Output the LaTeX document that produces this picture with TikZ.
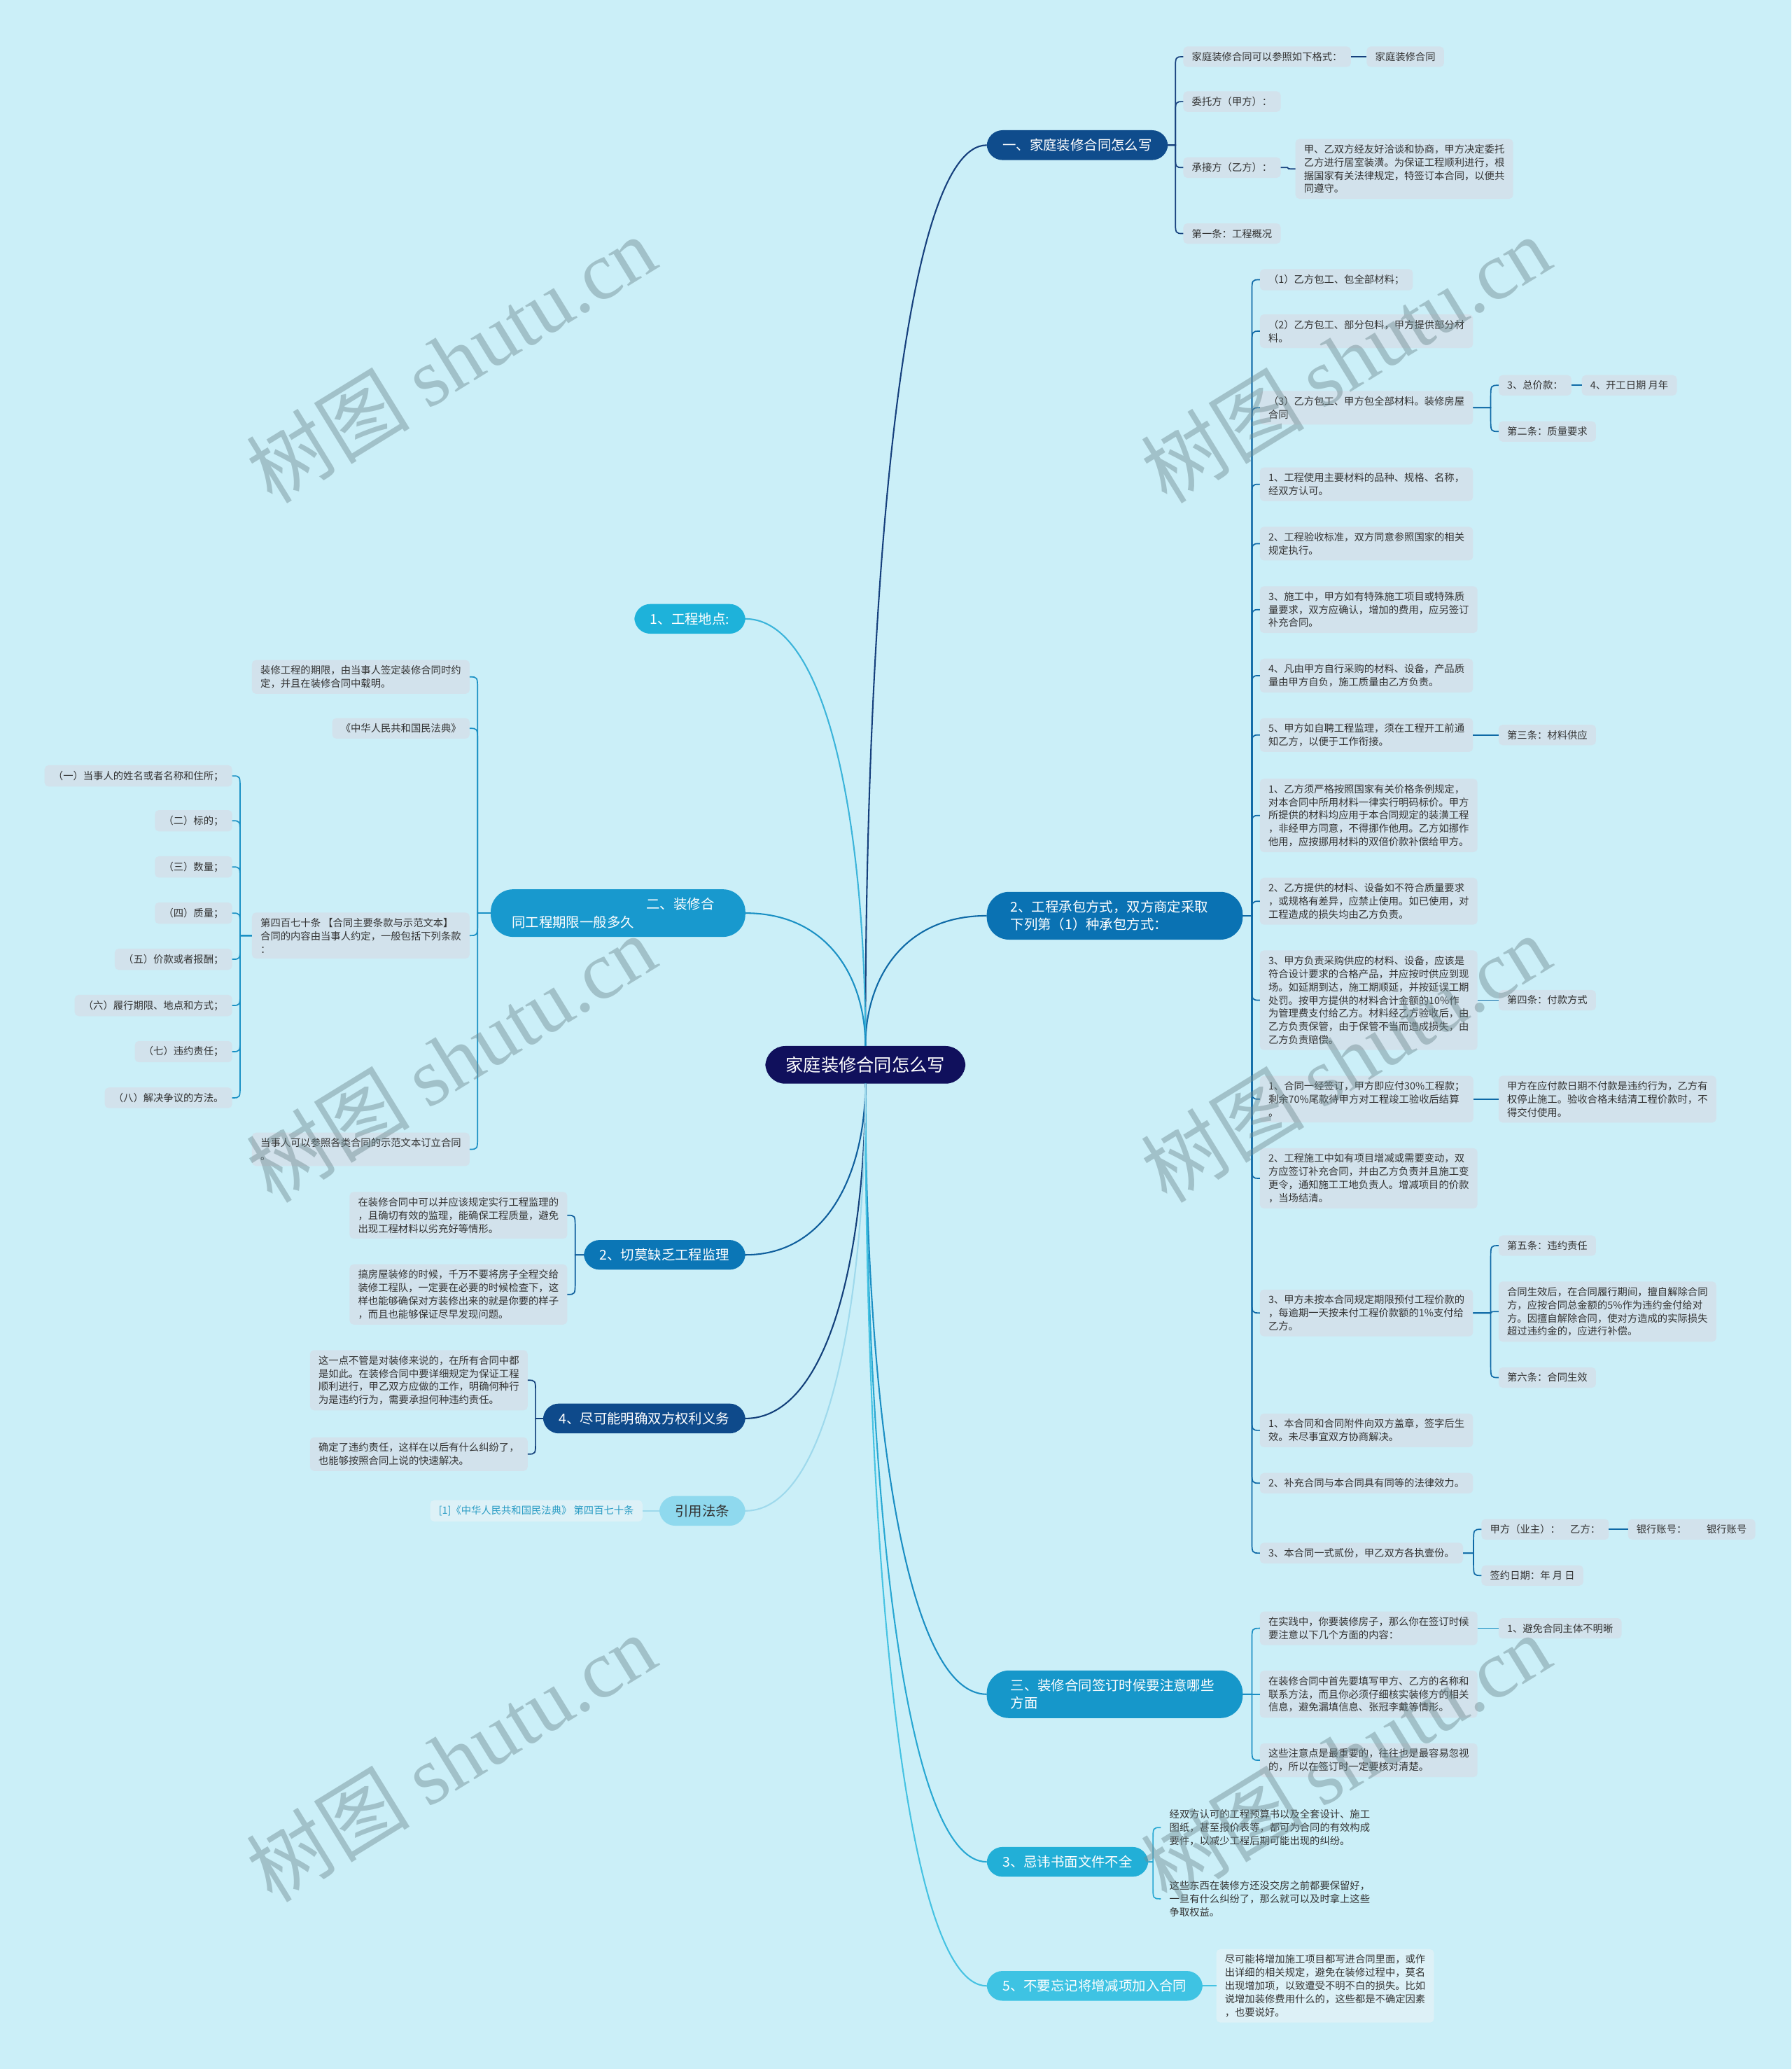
\documentclass[tikz,border=0pt]{standalone}
\usepackage{fontspec}
\setmainfont{Noto Sans CJK SC}
\newfontfamily\wmserif{Liberation Serif}
\usetikzlibrary{calc}
\definecolor{bgc}{HTML}{CBEFF8}
\definecolor{leafc}{HTML}{D2E2EC}
\definecolor{txtc}{HTML}{333333}
\definecolor{rootf}{HTML}{10105C}
\definecolor{c1f}{HTML}{0F4C8C}
\definecolor{c1l}{HTML}{153F7C}
\definecolor{c2f}{HTML}{0A72B3}
\definecolor{c2l}{HTML}{0E69A6}
\definecolor{c3f}{HTML}{1697CA}
\definecolor{c3l}{HTML}{1A8EC3}
\definecolor{c4f}{HTML}{22AFD7}
\definecolor{c4l}{HTML}{27A7D2}
\definecolor{c5f}{HTML}{3EC3E3}
\definecolor{c5l}{HTML}{45C2E2}
\definecolor{l1f}{HTML}{1EB2DA}
\definecolor{l1l}{HTML}{3BB4DA}
\definecolor{l2f}{HTML}{1899CE}
\definecolor{l2l}{HTML}{1A90C4}
\definecolor{l3f}{HTML}{0B76B6}
\definecolor{l3l}{HTML}{0F5E9C}
\definecolor{l4f}{HTML}{0E4A8B}
\definecolor{l4l}{HTML}{123F7A}
\definecolor{l5f}{HTML}{8FD9EE}
\definecolor{l5l}{HTML}{9ED9EC}
\definecolor{reft}{HTML}{2A9CC4}
\definecolor{refb}{HTML}{DDF1F7}
\definecolor{wmc}{HTML}{6F8A90}
\begin{document}
\begin{tikzpicture}[x=1pt,y=-1pt,
  every node/.style={outer sep=0pt},
  leaf/.style={fill=leafc, rounded corners=3pt, inner xsep=6.5pt, inner ysep=4.2pt, align=left, text=txtc, font=\fontsize{7.6}{10}\selectfont},
  bare/.style={leaf, fill=none},
  mainn/.style={rounded corners=12pt, inner xsep=12pt, inner ysep=6.5pt, text=white, align=left, font=\fontsize{10.3}{13.5}\selectfont},
  wm/.style={text=wmc, text opacity=0.45, font=\fontsize{62}{70}\selectfont, rotate=31.6},
  brace/.style={to path={let \p1=(\tikztostart),\p2=(\tikztotarget),\n1={ifthenelse(\y2>\y1,1,-1)},\n2={min(10,abs(\y2-(\y1)))} in -- ({\x2-(#1)},\y1) -- ({\x2-(#1)},{\y2-(\n1)*\n2*1pt}) .. controls ({\x2-(#1)},\y2) .. (\p2)}},
  rootc/.style={to path={let \p1=(\tikztostart),\p2=(\tikztotarget) in .. controls (\x1,{0.5*((\y1)+(\y2))}) and ({\x1+0.3*(\x2-(\x1))},\y2) .. (\p2)}},
  l0/.style={line width=1.1pt},
  lb/.style={line width=0.9pt}
]
\fill[bgc] (0,0) rectangle (1358,1568);
\useasboundingbox (0,0) rectangle (1358,1568);

% ---------- root and main nodes
\node[fill=rootf, rounded corners=15pt, inner xsep=15.5pt, inner ysep=8pt, text=white, font=\fontsize{13.4}{16}\selectfont] (root) at (656,807) {家庭装修合同怎么写};

\node[mainn, fill=c1f, anchor=west] (n1) at (748,110) {一、家庭装修合同怎么写};
\node[mainn, fill=c2f, anchor=west, text width=158pt, inner xsep=18pt, rounded corners=17pt] (n2) at (748,694) {2、工程承包方式，双方商定采取\\下列第（1）种承包方式：};
\node[mainn, fill=c3f, anchor=west, text width=158pt, inner xsep=18pt, rounded corners=17pt] (n3) at (748,1284) {三、装修合同签订时候要注意哪些\\方面};
\node[mainn, fill=c4f, anchor=west] (n4) at (748,1411) {3、忌讳书面文件不全};
\node[mainn, fill=c5f, anchor=west] (n5) at (748,1505) {5、不要忘记将增减项加入合同};

\node[mainn, fill=l1f, anchor=east] (l1) at (565,469) {1、工程地点:};
\node[mainn, fill=l2f, anchor=east, text width=161pt, inner xsep=16pt, rounded corners=17pt] (l2) at (565,692) {\hspace*{102pt}二、装修合\\同工程期限一般多久};
\node[mainn, fill=l3f, anchor=east] (l3) at (565,951) {2、切莫缺乏工程监理};
\node[mainn, fill=l4f, anchor=east] (l4) at (565,1075) {4、尽可能明确双方权利义务};
\node[mainn, fill=l5f, anchor=east, text=txtc] (l5) at (565,1145) {引用法条};

% ---------- branch 一
\node[leaf, anchor=west] (n1a) at (897,43) {家庭装修合同可以参照如下格式：};
\node[leaf, anchor=west] (n1a1) at (1036,43) {家庭装修合同};
\node[leaf, anchor=west] (n1b) at (897,77) {委托方（甲方）：};
\node[leaf, anchor=west] (n1c) at (897,127) {承接方（乙方）：};
\node[leaf, anchor=west] (n1c1) at (982,128) {甲、乙双方经友好洽谈和协商，甲方决定委托\\乙方进行居室装潢。为保证工程顺利进行，根\\据国家有关法律规定，特签订本合同，以便共\\同遵守。};
\node[leaf, anchor=west] (n1d) at (897,177) {第一条：工程概况};

% ---------- branch 2 工程承包方式
\node[leaf, anchor=west] (c1) at (955,212) {（1）乙方包工、包全部材料；};
\node[leaf, anchor=west] (c2) at (955,251) {（2）乙方包工、部分包料，甲方提供部分材\\料。};
\node[leaf, anchor=west] (c3) at (955,309) {（3）乙方包工、甲方包全部材料。装修房屋\\合同};
\node[leaf, anchor=west] (c3a) at (1136,292) {3、总价款：};
\node[leaf, anchor=west] (c3a1) at (1199,292) {4、开工日期 月年};
\node[leaf, anchor=west] (c3b) at (1136,327) {第二条：质量要求};
\node[leaf, anchor=west] (c4) at (955,367) {1、工程使用主要材料的品种、规格、名称，\\经双方认可。};
\node[leaf, anchor=west] (c5) at (955,412) {2、工程验收标准，双方同意参照国家的相关\\规定执行。};
\node[leaf, anchor=west] (c6) at (955,462) {3、施工中，甲方如有特殊施工项目或特殊质\\量要求，双方应确认，增加的费用，应另签订\\补充合同。};
\node[leaf, anchor=west] (c7) at (955,512) {4、凡由甲方自行采购的材料、设备，产品质\\量由甲方自负，施工质量由乙方负责。};
\node[leaf, anchor=west] (c8) at (955,557) {5、甲方如自聘工程监理，须在工程开工前通\\知乙方，以便于工作衔接。};
\node[leaf, anchor=west] (c8a) at (1136,557) {第三条：材料供应};
\node[leaf, anchor=west] (c9) at (955,618) {1、乙方须严格按照国家有关价格条例规定，\\对本合同中所用材料一律实行明码标价。甲方\\所提供的材料均应用于本合同规定的装潢工程\\，非经甲方同意，不得挪作他用。乙方如挪作\\他用，应按挪用材料的双倍价款补偿给甲方。};
\node[leaf, anchor=west] (c10) at (955,683) {2、乙方提供的材料、设备如不符合质量要求\\，或规格有差异，应禁止使用。如已使用，对\\工程造成的损失均由乙方负责。};
\node[leaf, anchor=west] (c11) at (955,758) {3、甲方负责采购供应的材料、设备，应该是\\符合设计要求的合格产品，并应按时供应到现\\场。如延期到达，施工期顺延，并按延误工期\\处罚。按甲方提供的材料合计金额的10\%作\\为管理费支付给乙方。材料经乙方验收后，由\\乙方负责保管，由于保管不当而造成损失，由\\乙方负责赔偿。};
\node[leaf, anchor=west] (c11a) at (1136,758) {第四条：付款方式};
\node[leaf, anchor=west] (c12) at (955,833) {1、合同一经签订，甲方即应付30\%工程款；\\剩余70\%尾款待甲方对工程竣工验收后结算\\。};
\node[leaf, anchor=west] (c12a) at (1136,833) {甲方在应付款日期不付款是违约行为，乙方有\\权停止施工。验收合格未结清工程价款时，不\\得交付使用。};
\node[leaf, anchor=west] (c13) at (955,893) {2、工程施工中如有项目增减或需要变动，双\\方应签订补充合同，并由乙方负责并且施工变\\更令，通知施工工地负责人。增减项目的价款\\，当场结清。};
\node[leaf, anchor=west] (c14) at (955,995) {3、甲方未按本合同规定期限预付工程价款的\\，每逾期一天按未付工程价款额的1\%支付给\\乙方。};
\node[leaf, anchor=west] (c14a) at (1136,944) {第五条：违约责任};
\node[leaf, anchor=west] (c14b) at (1136,994) {合同生效后，在合同履行期间，擅自解除合同\\方，应按合同总金额的5\%作为违约金付给对\\方。因擅自解除合同，使对方造成的实际损失\\超过违约金的，应进行补偿。};
\node[leaf, anchor=west] (c14c) at (1136,1044) {第六条：合同生效};
\node[leaf, anchor=west] (c15) at (955,1084) {1、本合同和合同附件向双方盖章，签字后生\\效。未尽事宜双方协商解决。};
\node[leaf, anchor=west] (c16) at (955,1124) {2、补充合同与本合同具有同等的法律效力。};
\node[leaf, anchor=west] (c17) at (955,1177) {3、本合同一式贰份，甲乙双方各执壹份。};
\node[leaf, anchor=west] (c17a) at (1123,1159) {甲方（业主）：　乙方：};
\node[leaf, anchor=west] (c17a1) at (1234,1159) {银行账号：　　银行账号};
\node[leaf, anchor=west] (c17b) at (1123,1194) {签约日期：年 月 日};

% ---------- branch 三
\node[leaf, anchor=west] (n3a) at (955,1234) {在实践中，你要装修房子，那么你在签订时候\\要注意以下几个方面的内容：};
\node[leaf, anchor=west] (n3a1) at (1136,1234) {1、避免合同主体不明晰};
\node[leaf, anchor=west] (n3b) at (955,1284) {在装修合同中首先要填写甲方、乙方的名称和\\联系方法，而且你必须仔细核实装修方的相关\\信息，避免漏填信息、张冠李戴等情形。};
\node[leaf, anchor=west] (n3c) at (955,1334) {这些注意点是最重要的，往往也是最容易忽视\\的，所以在签订时一定要核对清楚。};

% ---------- branch 3 忌讳
\node[bare, anchor=west] (n4a) at (880,1385) {经双方认可的工程预算书以及全套设计、施工\\图纸，甚至报价表等，都可为合同的有效构成\\要件，以减少工程后期可能出现的纠纷。};
\node[bare, anchor=west] (n4b) at (880,1439) {这些东西在装修方还没交房之前都要保留好，\\一旦有什么纠纷了，那么就可以及时拿上这些\\争取权益。};

% ---------- branch 5
\node[leaf, fill=refb, anchor=west] (n5a) at (922,1505) {尽可能将增加施工项目都写进合同里面，或作\\出详细的相关规定，避免在装修过程中，莫名\\出现增加项，以致遭受不明不白的损失。比如\\说增加装修费用什么的，这些都是不确定因素\\，也要说好。};

% ---------- left branch 二
\node[leaf, anchor=east] (l2a) at (356,513) {装修工程的期限，由当事人签定装修合同时约\\定，并且在装修合同中载明。};
\node[leaf, anchor=east] (l2b) at (356,552) {《中华人民共和国民法典》};
\node[leaf, anchor=east] (l2c) at (356,709) {第四百七十条 【合同主要条款与示范文本】\\合同的内容由当事人约定，一般包括下列条款\\：};
\node[leaf, anchor=east] (l2d) at (356,871) {当事人可以参照各类合同的示范文本订立合同\\。};
\node[leaf, anchor=east] (k1) at (176,588) {（一）当事人的姓名或者名称和住所；};
\node[leaf, anchor=east] (k2) at (176,622) {（二）标的；};
\node[leaf, anchor=east] (k3) at (176,657) {（三）数量；};
\node[leaf, anchor=east] (k4) at (176,692) {（四）质量；};
\node[leaf, anchor=east] (k5) at (176,727) {（五）价款或者报酬；};
\node[leaf, anchor=east] (k6) at (176,762) {（六）履行期限、地点和方式；};
\node[leaf, anchor=east] (k7) at (176,797) {（七）违约责任；};
\node[leaf, anchor=east] (k8) at (176,832) {（八）解决争议的方法。};

% ---------- left branch 2 切莫
\node[leaf, anchor=east] (l3a) at (430,921) {在装修合同中可以并应该规定实行工程监理的\\，且确切有效的监理，能确保工程质量，避免\\出现工程材料以劣充好等情形。};
\node[leaf, anchor=east] (l3b) at (430,981) {搞房屋装修的时候，千万不要将房子全程交给\\装修工程队，一定要在必要的时候检查下，这\\样也能够确保对方装修出来的就是你要的样子\\，而且也能够保证尽早发现问题。};

% ---------- left branch 4
\node[leaf, anchor=east] (l4a) at (400,1046) {这一点不管是对装修来说的，在所有合同中都\\是如此。在装修合同中要详细规定为保证工程\\顺利进行，甲乙双方应做的工作，明确何种行\\为是违约行为，需要承担何种违约责任。};
\node[leaf, anchor=east] (l4b) at (400,1102) {确定了违约责任，这样在以后有什么纠纷了，\\也能够按照合同上说的快速解决。};

% ---------- left branch 引用法条
\node[leaf, fill=refb, text=reft, anchor=east] (l5a) at (487,1145) {[1]《中华人民共和国民法典》 第四百七十条};

% ---------- root connectors
\draw[l0, c1l] (root.north) to[rootc] (n1.west);
\draw[l0, c2l] (root.north) to[rootc] (n2.west);
\draw[l0, l1l] (root.north) to[rootc] (l1.east);
\draw[l0, l2l] (root.north) to[rootc] (l2.east);
\draw[l0, c3l] (root.south) to[rootc] (n3.west);
\draw[l0, c4l] (root.south) to[rootc] (n4.west);
\draw[l0, c5l] (root.south) to[rootc] (n5.west);
\draw[l0, l3l] (root.south) to[rootc] (l3.east);
\draw[l0, l4l] (root.south) to[rootc] (l4.east);
\draw[l0, l5l] (root.south) to[rootc] (l5.east);

% ---------- branch connectors
\foreach \c in {n1a,n1b,n1c,n1d} \draw[lb, c1l] (n1.east) to[brace=6pt] (\c.west);
\draw[lb, c1l] (n1a.east) to[brace=6pt] (n1a1.west);
\draw[lb, c1l] (n1c.east) to[brace=6pt] (n1c1.west);

\foreach \c in {c1,c2,c3,c4,c5,c6,c7,c8,c9,c10,c11,c12,c13,c14,c15,c16,c17} \draw[lb, c2l] (n2.east) to[brace=6pt] (\c.west);
\draw[lb, c2l] (c3.east) to[brace=6pt] (c3a.west);
\draw[lb, c2l] (c3.east) to[brace=6pt] (c3b.west);
\draw[lb, c2l] (c3a.east) to[brace=6pt] (c3a1.west);
\draw[lb, c2l] (c8.east) to[brace=6pt] (c8a.west);
\draw[lb, c2l] (c11.east) to[brace=6pt] (c11a.west);
\draw[lb, c2l] (c12.east) to[brace=6pt] (c12a.west);
\foreach \c in {c14a,c14b,c14c} \draw[lb, c2l] (c14.east) to[brace=6pt] (\c.west);
\draw[lb, c2l] (c17.east) to[brace=6pt] (c17a.west);
\draw[lb, c2l] (c17.east) to[brace=6pt] (c17b.west);
\draw[lb, c2l] (c17a.east) to[brace=6pt] (c17a1.west);

\foreach \c in {n3a,n3b,n3c} \draw[lb, c3l] (n3.east) to[brace=6pt] (\c.west);
\draw[lb, c3l] (n3a.east) to[brace=6pt] (n3a1.west);

\foreach \c in {n4a,n4b} \draw[lb, c4l] (n4.east) to[brace=6pt] (\c.west);
\draw[lb, c5l] (n5.east) to[brace=6pt] (n5a.west);

\foreach \c in {l2a,l2b,l2c,l2d} \draw[lb, l2l] (l2.west) to[brace=-6pt] (\c.east);
\foreach \c in {k1,k2,k3,k4,k5,k6,k7,k8} \draw[lb, l2l] (l2c.west) to[brace=-6pt] (\c.east);
\foreach \c in {l3a,l3b} \draw[lb, l3l] (l3.west) to[brace=-6pt] (\c.east);
\foreach \c in {l4a,l4b} \draw[lb, l4l] (l4.west) to[brace=-6pt] (\c.east);
\draw[lb, l5l] (l5.west) to[brace=-6pt] (l5a.east);

% ---------- watermarks
\foreach \wx/\wy [count=\i] in {342/272,1020/272,342/802,1020/802,342/1332,1020/1332}
  \node[wm] (wm\i) at (\wx,\wy) {树图 {\wmserif shutu.cn}};
\end{tikzpicture}
\end{document}
